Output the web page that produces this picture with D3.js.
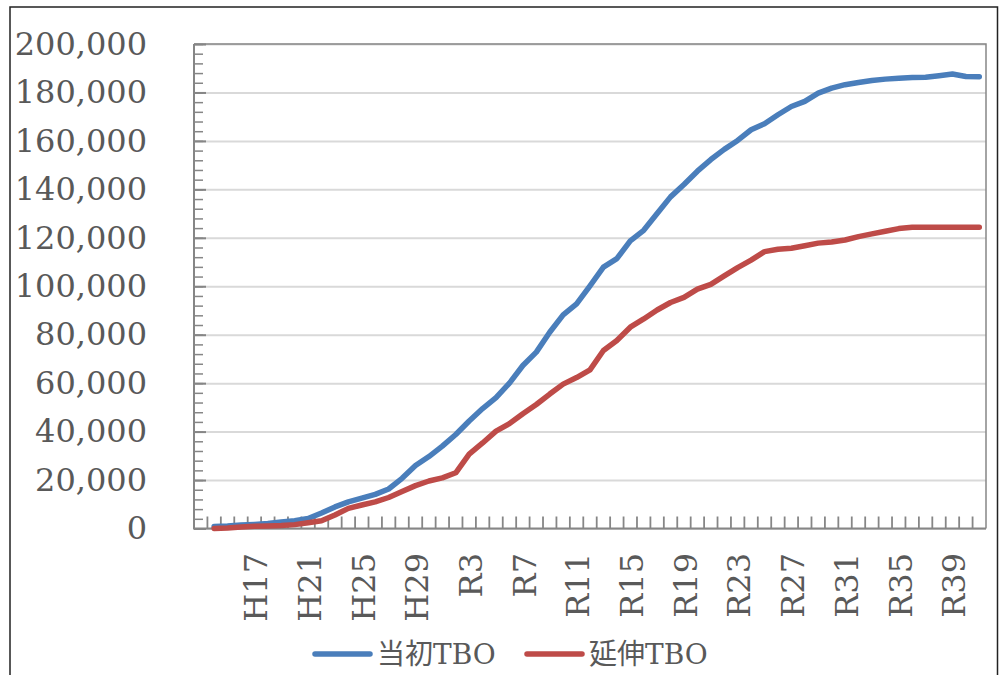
<!doctype html>
<html>
  <head>
    <meta charset="utf-8">
    <script src="https://cdnjs.cloudflare.com/ajax/libs/d3/7.8.5/d3.min.js"></script>
    <style>
      body { margin: 0; background: #fff; }
      text { font-family: "DejaVu Serif", "Noto Sans CJK JP", serif; fill: #595959; }
    </style>
  </head>
  <body>
    <svg width="999" height="675"></svg>
    <script>
        // categories: first slot is blank, then H14..H30, R1..R41
        var categories = [""];
        var heisei = ["H14","H15","H16","H17","H18","H19","H20","H21","H22","H23","H24","H25","H26","H27","H28","H29","H30"];
        var reiwa = ["R1","R2","R3","R4","R5","R6","R7","R8","R9","R10","R11","R12","R13","R14","R15","R16","R17","R18","R19","R20",
                     "R21","R22","R23","R24","R25","R26","R27","R28","R29","R30","R31","R32","R33","R34","R35","R36","R37","R38","R39","R40","R41"];
        categories = categories.concat(heisei, reiwa);

        var xLabels = ["H17","H21","H25","H29","R3","R7","R11","R15","R19","R23","R27","R31","R35","R39"];
        var yTicks = [0,20000,40000,60000,80000,100000,120000,140000,160000,180000,200000];

        var seriesNames = ["当初TBO", "延伸TBO"];

        // 当初TBO, H14..R41
        var initialTBO = [800,1000,1400,1700,2100,2700,3200,4100,6400,8900,11000,12500,14100,16300,20700,26000,29700,
                          34000,38800,44400,49500,54000,60000,67300,72800,81000,88200,92700,100200,107900,111400,118700,123100,
                          130000,136900,142000,147500,152300,156500,160200,164600,167100,170800,174200,176300,179700,181800,
                          183200,184100,184900,185500,185900,186200,186300,186900,187600,186600,186500];
        // 延伸TBO, H14..R41
        var extendedTBO = [0,200,600,900,1000,1200,1600,2400,3200,5600,8300,9700,11000,12800,15300,17700,19600,
                           20900,23000,30700,35300,40200,43300,47400,51200,55500,59600,62300,65500,73500,77600,83100,86500,
                           90200,93300,95400,98800,100800,104300,107700,110800,114300,115300,115700,116700,117800,118300,
                           119100,120500,121600,122700,123800,124400,124400,124400,124400,124400,124400];

        var colors = ["#4a7ebb", "#be4b48"];
        var axisColor = "#868686";

        var svg = d3.select("svg");
        var plotL = 194, plotR = 986, plotT = 44, plotB = 528.5;

        // outer chart frame
        svg.append("path").attr("d", "M10,680V7H997.5V680")
            .attr("fill", "none").attr("stroke", "#222").attr("stroke-width", 1.5);

        var x = d3.scaleBand().domain(categories).range([plotL, plotR]).padding(0);
        var y = d3.scaleLinear().domain([0, 200000]).range([plotB, plotT]);

        // gridlines
        svg.append("g")
            .attr("transform", "translate(" + plotL + ",0)")
            .call(d3.axisLeft(y).tickValues(yTicks).tickSize(-(plotR - plotL)).tickFormat(""))
            .call(g => g.select(".domain").remove())
            .call(g => g.selectAll("line").attr("stroke", "#d9d9d9").attr("stroke-width", 2));

        // plot border (top/right)
        svg.append("path").attr("d", "M" + plotL + "," + plotT + "H" + plotR + "V" + plotB)
            .attr("fill", "none").attr("stroke", axisColor).attr("stroke-width", 1.5);

        // y minor + major ticks (inside)
        svg.append("g")
            .attr("transform", "translate(" + plotL + ",0)")
            .call(d3.axisRight(y).tickValues(d3.range(0, 200001, 4000)).tickSize(9).tickFormat(""))
            .call(g => g.select(".domain").remove())
            .call(g => g.selectAll("line").attr("stroke", axisColor).attr("stroke-width", 1.5));
        svg.append("g")
            .attr("transform", "translate(" + plotL + ",0)")
            .call(d3.axisRight(y).tickValues(yTicks).tickSize(12).tickFormat(""))
            .call(g => g.select(".domain").remove())
            .call(g => g.selectAll("line").attr("stroke", axisColor).attr("stroke-width", 2));

        // y labels
        svg.append("g")
            .attr("transform", "translate(" + plotL + ",0)")
            .call(d3.axisLeft(y).tickValues(yTicks).tickSize(0).tickPadding(47).tickFormat(d3.format(",")))
            .call(g => g.select(".domain").remove())
            .call(g => g.selectAll("text").attr("fill", "#595959").style("font-size", "32px")
                .style("font-family", "'DejaVu Serif', serif"));

        // x ticks at category boundaries
        var bounds = categories.map(c => x(c)).slice(1);
        svg.append("g").selectAll("line")
            .data(bounds).enter().append("line")
            .attr("x1", d => d).attr("x2", d => d)
            .attr("y1", plotB).attr("y2", plotB - 12)
            .attr("stroke", axisColor).attr("stroke-width", 1.8);

        // x labels
        svg.append("g")
            .attr("transform", "translate(0," + plotB + ")")
            .call(d3.axisBottom(x).tickValues(xLabels).tickSize(0))
            .call(g => g.select(".domain").remove())
            .call(g => g.selectAll("text")
                .attr("transform", "rotate(-90)")
                .attr("x", -24.5).attr("y", 0).attr("dy", "0.4em")
                .attr("text-anchor", "end")
                .attr("fill", "#595959")
                .style("font-size", "32px")
                .style("font-family", "'DejaVu Serif', serif"));

        // axes lines
        svg.append("path").attr("d", "M" + plotL + "," + plotT + "V" + plotB + "H" + plotR)
            .attr("fill", "none").attr("stroke", axisColor).attr("stroke-width", 2);

        // series lines
        var dataCats = categories.slice(1);
        var line = d3.line()
            .x((d, i) => x(dataCats[i]) + x.bandwidth() / 2)
            .y(d => y(d));

        [initialTBO, extendedTBO].forEach(function (s, k) {
            svg.append("path")
                .datum(s)
                .attr("d", line)
                .attr("fill", "none")
                .attr("stroke", colors[k])
                .attr("stroke-width", 5.5)
                .attr("stroke-linejoin", "round")
                .attr("stroke-linecap", "round");
        });

        // legend
        var legendX = [315, 527];
        var legend = svg.append("g").selectAll("g")
            .data(seriesNames).enter().append("g")
            .attr("transform", (d, i) => "translate(" + legendX[i] + ",654)");
        legend.append("line")
            .attr("x1", 0).attr("x2", 55)
            .attr("stroke", (d, i) => colors[i]).attr("stroke-width", 5.5).attr("stroke-linecap", "round");
        legend.append("text")
            .attr("x", 62).attr("y", 10)
            .style("font-size", "28px")
            .text(d => d);
    </script>
  </body>
</html>
